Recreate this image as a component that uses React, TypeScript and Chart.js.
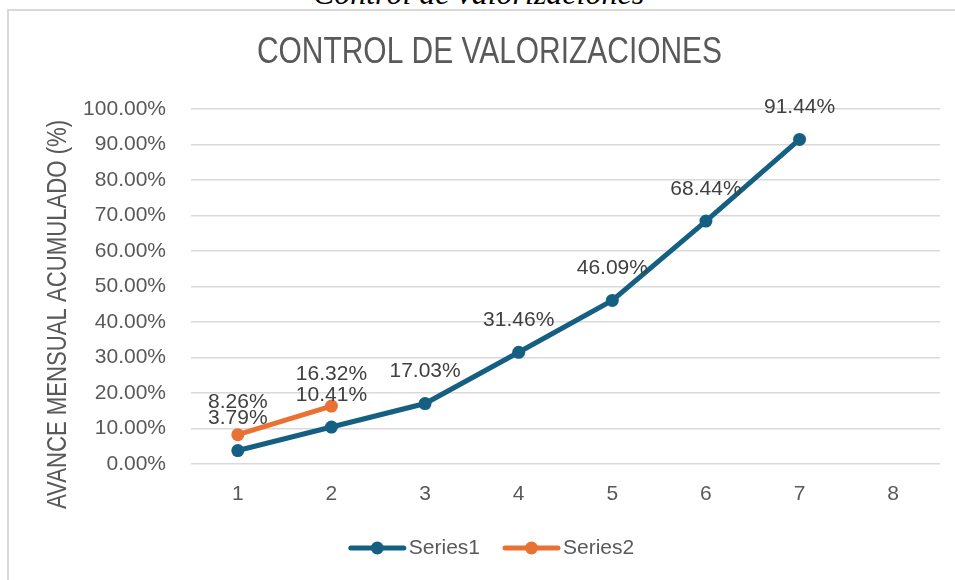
import React, { useEffect, useRef } from 'react';
import { Chart, registerables } from 'chart.js';

Chart.register(...registerables);

// ---- data ----
const categories = ['1', '2', '3', '4', '5', '6', '7', '8'];
const series1 = [3.79, 10.41, 17.03, 31.46, 46.09, 68.44, 91.44, null];
const series2 = [8.26, 16.32, null, null, null, null, null, null];
const seriesNames = ['Series1', 'Series2'];
const seriesColors = ['#156082', '#E97132'];
const yMin = 0;
const yMax = 100;
const yStep = 10;
const chartTitle = 'CONTROL DE VALORIZACIONES';
const yAxisTitle = 'AVANCE MENSUAL ACUMULADO (%)';
const sheetHeading = 'Control de valorizaciones';

const TEXT = '#595959';
const LABEL = '#404040';
const SANS = '"Liberation Sans", Arial, sans-serif';

function setNarrow(ctx: CanvasRenderingContext2D, text: string, size: number): number {
  ctx.font = `${size}px "Liberation Sans Narrow", "Liberation Sans"`;
  const wN = ctx.measureText(text).width;
  ctx.font = `${size}px "Liberation Sans"`;
  const wR = ctx.measureText(text).width;
  if (wN / wR < 0.9) {
    ctx.font = `${size}px "Liberation Sans Narrow", "Liberation Sans"`;
    return 1;
  }
  return 0.82;
}

function drawNarrow(ctx: CanvasRenderingContext2D, text: string, x: number, y: number, size: number, rot = 0) {
  ctx.save();
  const sx = setNarrow(ctx, text, size);
  ctx.translate(x, y);
  if (rot) ctx.rotate(rot);
  ctx.scale(sx, 1);
  ctx.textAlign = 'center';
  ctx.textBaseline = 'middle';
  ctx.fillText(text, 0, 0);
  ctx.restore();
}

const decorPlugin = {
  id: 'decor',
  afterDatasetsDraw(chart: any) {
    const ctx: CanvasRenderingContext2D = chart.ctx;
    ctx.save();
    ctx.font = `21px ${SANS}`;
    ctx.fillStyle = LABEL;
    ctx.textAlign = 'center';
    ctx.textBaseline = 'middle';
    chart.data.datasets.forEach((ds: any, i: number) => {
      const meta = chart.getDatasetMeta(i);
      meta.data.forEach((pt: any, j: number) => {
        const v = ds.data[j];
        if (v == null) return;
        ctx.fillText(v.toFixed(2) + '%', pt.x, pt.y - 32);
      });
    });
    ctx.restore();
  },
  afterDraw(chart: any) {
    const ctx: CanvasRenderingContext2D = chart.ctx;
    const area = chart.chartArea;
    const centerX = (15 + chart.width) / 2;
    ctx.save();
    ctx.fillStyle = TEXT;
    // chart title
    drawNarrow(ctx, chartTitle, centerX, 42, 36.5);
    // y axis title
    drawNarrow(ctx, yAxisTitle, 50, (area.top + area.bottom) / 2 + 28, 27, -Math.PI / 2);
    // legend
    ctx.font = `21px ${SANS}`;
    const lineW = 57;
    const gapText = 3;
    const gapItem = 23;
    const widths = chart.data.datasets.map((ds: any) => lineW + gapText + ctx.measureText(ds.label).width);
    const total = widths.reduce((a: number, b: number) => a + b, 0) + gapItem * (widths.length - 1);
    let x = centerX + 2 - total / 2;
    const y = 537;
    chart.data.datasets.forEach((ds: any, i: number) => {
      ctx.strokeStyle = ds.borderColor;
      ctx.lineWidth = 5;
      ctx.lineCap = 'round';
      ctx.beginPath();
      ctx.moveTo(x + 2, y);
      ctx.lineTo(x + lineW - 2, y);
      ctx.stroke();
      ctx.fillStyle = ds.borderColor;
      ctx.beginPath();
      ctx.arc(x + lineW / 2, y, 6.5, 0, Math.PI * 2);
      ctx.fill();
      ctx.fillStyle = TEXT;
      ctx.textAlign = 'left';
      ctx.textBaseline = 'middle';
      ctx.fillText(ds.label, x + lineW + gapText, y);
      x += widths[i] + gapItem;
    });
    ctx.restore();
  },
};

export default function App() {
  const ref = useRef<HTMLCanvasElement>(null);
  useEffect(() => {
    const canvas = ref.current!;
    const mk = (i: number, data: (number | null)[]) => ({
      label: seriesNames[i],
      data,
      borderColor: seriesColors[i],
      backgroundColor: seriesColors[i],
      pointBackgroundColor: seriesColors[i],
      pointBorderColor: seriesColors[i],
      borderWidth: 5,
      pointRadius: 6.5,
      pointBorderWidth: 0,
      tension: 0,
      spanGaps: false,
      clip: false as any,
    });
    const chart = new Chart(canvas, {
      type: 'line',
      data: {
        labels: categories,
        datasets: [mk(0, series1), mk(1, series2)],
      },
      options: {
        responsive: false,
        maintainAspectRatio: false,
        animation: false,
        devicePixelRatio: 1,
        layout: { padding: { left: 15, right: 15, top: 98, bottom: 66 } },
        plugins: {
          legend: { display: false },
          title: { display: false },
          tooltip: { enabled: false },
        },
        scales: {
          x: {
            type: 'category',
            offset: true,
            grid: { display: false, drawTicks: false },
            border: { display: false },
            ticks: {
              color: TEXT,
              font: { family: SANS, size: 21 },
              padding: 18,
              maxRotation: 0,
              autoSkip: false,
            },
            afterFit: (s: any) => {
              s.height = 50;
            },
          },
          y: {
            min: yMin,
            max: yMax,
            ticks: {
              stepSize: yStep,
              color: TEXT,
              font: { family: SANS, size: 21 },
              padding: 25,
              callback: (v: any) => Number(v).toFixed(2) + '%',
            },
            grid: { color: '#d9d9d9', lineWidth: 1.5, drawTicks: false },
            border: { display: false },
            afterFit: (s: any) => {
              s.width = 167;
            },
          },
        },
      },
      plugins: [decorPlugin],
    });
    return () => chart.destroy();
  }, []);

  return (
    <div
      style={{
        position: 'fixed',
        left: 0,
        top: 0,
        width: 955,
        height: 580,
        overflow: 'hidden',
        background: '#fff',
      }}
    >
      <div
        style={{
          position: 'absolute',
          left: 7,
          top: 9,
          width: 1000,
          height: 700,
          borderLeft: '2px solid #d9d9d9',
          borderTop: '2px solid #d9d9d9',
          background: '#fff',
        }}
      >
        <canvas ref={ref} width={946} height={569} style={{ display: 'block', width: 946, height: 569 }} />
      </div>
      <div
        style={{
          position: 'absolute',
          left: 1,
          top: -23,
          width: 955,
          textAlign: 'center',
          fontFamily: '"Liberation Serif", "Times New Roman", serif',
          fontStyle: 'italic',
          fontSize: 32,
          lineHeight: '32px',
          color: '#000',
          whiteSpace: 'nowrap',
        }}
      >
        {sheetHeading}
      </div>
    </div>
  );
}
